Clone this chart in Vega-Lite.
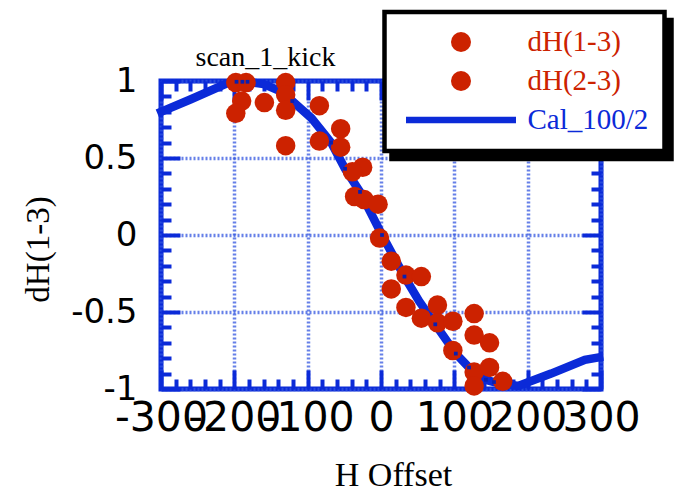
{
  "$schema": "https://vega.github.io/schema/vega-lite/v6.json",
  "width": 440,
  "height": 308,
  "autosize": {"type": "none"},
  "padding": {"left": 161, "top": 81, "right": 74, "bottom": 103},
  "background": "white",
  "config": {"view": {"stroke": "#0b2ad8", "strokeWidth": 5}},
  "datasets": {
    "pts": [
      {"h": -198, "d": 0.99, "series": "dH(1-3)"},
      {"h": -184, "d": 0.99, "series": "dH(2-3)"},
      {"h": -190, "d": 0.87, "series": "dH(1-3)"},
      {"h": -198, "d": 0.79, "series": "dH(2-3)"},
      {"h": -159, "d": 0.86, "series": "dH(1-3)"},
      {"h": -130, "d": 0.99, "series": "dH(2-3)"},
      {"h": -130, "d": 0.91, "series": "dH(1-3)"},
      {"h": -130, "d": 0.81, "series": "dH(2-3)"},
      {"h": -130, "d": 0.58, "series": "dH(1-3)"},
      {"h": -84, "d": 0.84, "series": "dH(2-3)"},
      {"h": -84, "d": 0.61, "series": "dH(1-3)"},
      {"h": -55, "d": 0.69, "series": "dH(2-3)"},
      {"h": -55, "d": 0.57, "series": "dH(1-3)"},
      {"h": -25, "d": 0.44, "series": "dH(2-3)"},
      {"h": -39, "d": 0.41, "series": "dH(1-3)"},
      {"h": -36, "d": 0.25, "series": "dH(2-3)"},
      {"h": -23, "d": 0.23, "series": "dH(1-3)"},
      {"h": -4, "d": 0.2, "series": "dH(2-3)"},
      {"h": -2, "d": -0.02, "series": "dH(1-3)"},
      {"h": 14, "d": -0.17, "series": "dH(2-3)"},
      {"h": 34, "d": -0.26, "series": "dH(1-3)"},
      {"h": 55, "d": -0.27, "series": "dH(2-3)"},
      {"h": 14, "d": -0.35, "series": "dH(1-3)"},
      {"h": 34, "d": -0.47, "series": "dH(2-3)"},
      {"h": 55, "d": -0.54, "series": "dH(1-3)"},
      {"h": 77, "d": -0.455, "series": "dH(2-3)"},
      {"h": 77, "d": -0.57, "series": "dH(1-3)"},
      {"h": 98, "d": -0.56, "series": "dH(2-3)"},
      {"h": 127, "d": -0.51, "series": "dH(1-3)"},
      {"h": 127, "d": -0.65, "series": "dH(2-3)"},
      {"h": 148, "d": -0.7, "series": "dH(1-3)"},
      {"h": 98, "d": -0.75, "series": "dH(2-3)"},
      {"h": 127, "d": -0.89, "series": "dH(1-3)"},
      {"h": 148, "d": -0.86, "series": "dH(2-3)"},
      {"h": 127, "d": -0.98, "series": "dH(1-3)"},
      {"h": 166, "d": -0.95, "series": "dH(2-3)"}
    ],
    "curve": [
      {"h": -305, "d": 0.79}, {"h": -260, "d": 0.88}, {"h": -210, "d": 0.985},
      {"h": -197, "d": 0.995}, {"h": -189, "d": 0.995}, {"h": -182, "d": 0.995},
      {"h": -160, "d": 0.98}, {"h": -140, "d": 0.94}, {"h": -121, "d": 0.87},
      {"h": -95, "d": 0.76}, {"h": -68, "d": 0.6}, {"h": -49, "d": 0.43},
      {"h": -28.6, "d": 0.28}, {"h": 1.4, "d": 0.0}, {"h": 32, "d": -0.27},
      {"h": 52, "d": -0.43}, {"h": 74, "d": -0.58}, {"h": 102, "d": -0.77},
      {"h": 120, "d": -0.86}, {"h": 143, "d": -0.94}, {"h": 154, "d": -0.955},
      {"h": 187, "d": -0.98}, {"h": 232, "d": -0.9}, {"h": 278, "d": -0.81},
      {"h": 303, "d": -0.79}
    ],
    "markers": [
      {"h": -197, "d": 0.995}, {"h": -189, "d": 0.995}, {"h": -182, "d": 0.995},
      {"h": -121, "d": 0.87}, {"h": -68, "d": 0.6}, {"h": -49, "d": 0.43},
      {"h": -28.6, "d": 0.28}, {"h": 1.4, "d": 0.0}, {"h": 32, "d": -0.27},
      {"h": 74, "d": -0.58}, {"h": 102, "d": -0.77}, {"h": 120, "d": -0.86},
      {"h": 143, "d": -0.94}, {"h": 154, "d": -0.955}
    ]
  },
  "layer": [
    {
      "data": {"name": "curve"},
      "mark": {"type": "line", "color": "#0b2ad8", "strokeWidth": 8.5, "clip": false},
      "encoding": {
        "x": {
          "field": "h", "type": "quantitative",
          "scale": {"domain": [-300, 300], "nice": false, "zero": false},
          "axis": {
            "orient": "bottom",
            "values": [-300,-280,-260,-240,-220,-200,-180,-160,-140,-120,-100,-80,-60,-40,-20,0,20,40,60,80,100,120,140,160,180,200,220,240,260,280,300],
            "domain": false,
            "grid": true, "gridColor": "#3355e0", "gridDash": [2, 2], "gridWidth": 3.5,
            "gridOpacity": {"condition": {"test": "datum.value % 100 === 0", "value": 0.75}, "value": 0},
            "tickColor": "#0b2ad8", "tickWidth": 4,
            "tickSize": {"condition": {"test": "datum.value % 100 === 0", "value": -19}, "value": -10},
            "labelExpr": "datum.value % 100 === 0 ? '' + datum.value : ''",
            "labelFont": "DejaVu Sans", "labelFontSize": 41, "labelColor": "black",
            "labelPadding": 28, "labelOverlap": false, "labelFlush": false, "labelBound": false,
            "title": "H Offset", "titleFont": "Liberation Serif", "titleFontSize": 34, "titleFontWeight": "normal", "titleColor": "black",
            "titleX": 232, "titleY": 96, "titleBaseline": "alphabetic", "titleAlign": "center"
          }
        },
        "y": {
          "field": "d", "type": "quantitative",
          "scale": {"domain": [-1, 1], "nice": false, "zero": false},
          "axis": {
            "orient": "left",
            "values": [-1,-0.9,-0.8,-0.7,-0.6,-0.5,-0.4,-0.3,-0.2,-0.1,0,0.1,0.2,0.3,0.4,0.5,0.6,0.7,0.8,0.9,1],
            "domain": false,
            "grid": true, "gridColor": "#3355e0", "gridDash": [2, 2], "gridWidth": 3.5,
            "gridOpacity": {"condition": {"test": "abs(round(datum.value * 10)) % 5 === 0", "value": 0.75}, "value": 0},
            "tickColor": "#0b2ad8", "tickWidth": 4,
            "tickSize": {"condition": {"test": "abs(round(datum.value * 10)) % 5 === 0", "value": -19}, "value": -10},
            "labelExpr": "abs(round(datum.value * 10)) % 5 === 0 ? '' + datum.value : ''",
            "labelFont": "DejaVu Sans", "labelFontSize": 34, "labelColor": "black",
            "labelPadding": 43, "labelOverlap": false, "labelFlush": false, "labelBound": false,
            "title": "dH(1-3)", "titleFont": "Liberation Serif", "titleFontSize": 33, "titleFontWeight": "normal", "titleColor": "black",
            "titleAngle": 270, "titleX": -113, "titleY": 168, "titleBaseline": "alphabetic", "titleAlign": "center"
          }
        }
      }
    },
    {
      "data": {"name": "pts"},
      "mark": {"type": "point", "filled": true, "size": 380, "opacity": 1, "clip": false},
      "encoding": {
        "x": {
          "field": "h", "type": "quantitative",
          "axis": {
            "orient": "top",
            "values": [-300,-280,-260,-240,-220,-200,-180,-160,-140,-120,-100,-80,-60,-40,-20,0,20,40,60,80,100,120,140,160,180,200,220,240,260,280,300],
            "domain": false, "grid": false, "labels": false,
            "tickColor": "#0b2ad8", "tickWidth": 4,
            "tickSize": {"condition": {"test": "datum.value % 100 === 0", "value": -19}, "value": -10},
            "title": "scan_1_kick", "titleFont": "Liberation Serif", "titleFontSize": 28, "titleFontWeight": "normal", "titleColor": "black",
            "titleX": 104, "titleY": -16, "titleBaseline": "alphabetic", "titleAlign": "center"
          }
        },
        "y": {
          "field": "d", "type": "quantitative",
          "axis": {
            "orient": "right",
            "values": [-1,-0.9,-0.8,-0.7,-0.6,-0.5,-0.4,-0.3,-0.2,-0.1,0,0.1,0.2,0.3,0.4,0.5,0.6,0.7,0.8,0.9,1],
            "domain": false, "grid": false, "labels": false, "title": null,
            "tickColor": "#0b2ad8", "tickWidth": 4,
            "tickSize": {"condition": {"test": "abs(round(datum.value * 10)) % 5 === 0", "value": -19}, "value": -10}
          }
        },
        "color": {
          "field": "series", "type": "nominal",
          "scale": {"domain": ["dH(1-3)", "dH(2-3)", "Cal_100/2"], "range": ["#cc2200", "#cc2200", "#0b2ad8"]},
          "legend": {
            "orient": "none", "legendX": 223.5, "legendY": -69, "title": null, "zindex": 2,
            "fillColor": "white", "strokeColor": "black",
            "padding": 16, "symbolSize": 400, "symbolStrokeWidth": 6.5, "symbolOffset": 46,
            "labelOffset": 52, "labelFont": "Liberation Serif", "labelFontSize": 29, "labelLimit": 0,
            "clipHeight": 28, "rowPadding": 10,
            "encoding": {
              "legend": {"strokeWidth": {"value": 4.5}, "stroke": {"value": "black"}, "fill": {"value": "white"}},
              "symbols": {
                "shape": {"condition": {"test": "datum.value === 'Cal_100/2'", "value": "M-5.5,0H5.5"}, "value": "circle"},
                "fill": {"condition": {"test": "datum.value === 'Cal_100/2'", "value": "transparent"}, "value": "#cc2200"},
                "stroke": {"condition": {"test": "datum.value === 'Cal_100/2'", "value": "#0b2ad8"}, "value": "transparent"},
                "opacity": {"value": 1}
              },
              "labels": {
                "fill": {"condition": {"test": "datum.value === 'Cal_100/2'", "value": "#0b2ad8"}, "value": "#cc2200"}
              }
            }
          }
        },
        "opacity": {
          "field": "series", "type": "nominal",
          "scale": {"type": "ordinal", "domain": ["Cal_100/2", "dH(1-3)", "dH(2-3)"], "range": [1, 1, 1]},
          "legend": {
            "orient": "none", "legendX": 230.5, "legendY": -61, "title": null, "zindex": 1,
            "fillColor": "black", "strokeColor": "black",
            "padding": 16, "symbolSize": 400, "symbolStrokeWidth": 6.5, "symbolOffset": 46,
            "labelOffset": 52, "labelFont": "Liberation Serif", "labelFontSize": 29, "labelLimit": 0,
            "clipHeight": 28, "rowPadding": 10, "labelOpacity": 0,
            "encoding": {
              "legend": {"strokeWidth": {"value": 4.5}, "stroke": {"value": "black"}, "fill": {"value": "black"}},
              "symbols": {
                "shape": {"condition": {"test": "datum.value === 'Cal_100/2'", "value": "M-5.5,0H5.5"}, "value": "circle"},
                "fill": {"value": "transparent"},
                "stroke": {"value": "transparent"},
                "opacity": {"value": 0}
              },
              "labels": {"opacity": {"value": 0}}
            }
          }
        }
      }
    },
    {
      "data": {"name": "markers"},
      "mark": {"type": "point", "shape": "square", "filled": true, "size": 14, "color": "#0a1fb0", "opacity": 1},
      "encoding": {
        "x": {"field": "h", "type": "quantitative", "axis": null},
        "y": {"field": "d", "type": "quantitative", "axis": null}
      }
    }
  ],
  "resolve": {"axis": {"x": "independent", "y": "independent"}}
}
